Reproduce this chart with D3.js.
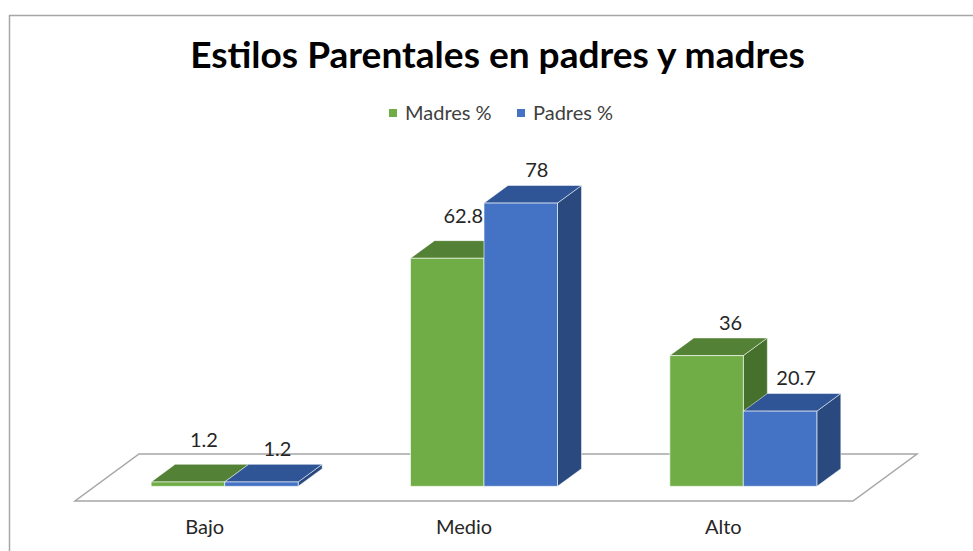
<!DOCTYPE html>
<html>
<head>
<meta charset="utf-8">
<script src="https://cdn.jsdelivr.net/npm/d3@7"></script>
<style>
  body { margin: 0; background: #fff; }
  svg { display: block; font-family: Lato, "Open Sans", sans-serif; }
</style>
</head>
<body>
<svg id="drawing_region"></svg>
<script>
const categories = ["Bajo", "Medio", "Alto"];
const seriesNames = ["Madres %", "Padres %"];
const madres = [1.2, 62.8, 36];
const padres = [1.2, 78, 20.7];
const titleText = "Estilos Parentales en padres y madres";

const W = 973, H = 551;
const svg = d3.select("#drawing_region").attr("width", W).attr("height", H);

// chart frame (only left and top visible in the shot)
svg.append("path")
  .attr("d", "M9.5,551 L9.5,15.5 L973,15.5")
  .attr("fill", "none").attr("stroke", "#a6a6a6").attr("stroke-width", 1.5);

// title, fitted to width
const title = svg.append("text")
  .attr("x", 497.5).attr("y", 68)
  .attr("text-anchor", "middle")
  .attr("font-weight", "bold").attr("font-size", 30)
  .attr("fill", "#000")
  .text(titleText);
const tw = title.node().getComputedTextLength();
title.attr("font-size", 30 * 615 / tw);

// legend
const colors = [
  { front: "#70ad47", top: "#538135", side: "#46712c" },
  { front: "#4472c4", top: "#2f5597", side: "#29497f" }
];
const legend = svg.append("g");
const legX = [389, 517];
seriesNames.forEach((s, i) => {
  legend.append("rect").attr("x", legX[i]).attr("y", 109).attr("width", 8).attr("height", 8)
    .attr("fill", colors[i].front);
  legend.append("text").attr("x", legX[i] + 16).attr("y", 120)
    .attr("font-size", 20).attr("fill", "#404040").text(s);
});

// 3D floor geometry
const floorFront = 501, floorLeft = 75, floorRight = 853;
const depth = { dx: 64, dy: -47 };
const barDepth0 = 20 / 64, barDepth1 = 44 / 64;

const x = d3.scaleBand().domain(categories).range([floorLeft, floorRight]).paddingInner(0).paddingOuter(0);
const inner = d3.scaleBand().domain(seriesNames).range([0, 147]);
const y = d3.scaleLinear().domain([0, 80]).range([0, 290.5]);

svg.append("path")
  .attr("d", `M${floorLeft},${floorFront} L${floorRight},${floorFront} L${floorRight + depth.dx},${floorFront + depth.dy} L${floorLeft + depth.dx},${floorFront + depth.dy} Z`)
  .attr("fill", "#fff").attr("stroke", "#a6a6a6").attr("stroke-width", 1.5);

const bdx = depth.dx * (barDepth1 - barDepth0), bdy = depth.dy * (barDepth1 - barDepth0);
const offX = depth.dx * barDepth0, offY = depth.dy * barDepth0;
const baseY = floorFront + offY;

const bars = [];
categories.forEach((c, ci) => {
  [madres, padres].forEach((vals, si) => {
    const x0 = x(c) + x.bandwidth() / 2 - 147 / 2 + inner(seriesNames[si]) + offX;
    const w = inner.bandwidth();
    const h = y(vals[ci]);
    bars.push({ c, ci, si, v: vals[ci], x0, x1: x0 + w, top: baseY - h });
  });
});

const g = svg.append("g");
bars.forEach(b => {
  const col = colors[b.si];
  const pts = a => a.map(p => p.join(",")).join(" ");
  // side face
  g.append("polygon")
    .attr("points", pts([[b.x1, baseY], [b.x1 + bdx, baseY + bdy], [b.x1 + bdx, b.top + bdy], [b.x1, b.top]]))
    .attr("fill", col.side).attr("stroke", "rgba(255,255,255,0.5)").attr("stroke-width", 1);
  // top face
  g.append("polygon")
    .attr("points", pts([[b.x0, b.top], [b.x1, b.top], [b.x1 + bdx, b.top + bdy], [b.x0 + bdx, b.top + bdy]]))
    .attr("fill", col.top).attr("stroke", "rgba(255,255,255,0.5)").attr("stroke-width", 1);
  // front face
  g.append("rect")
    .attr("x", b.x0).attr("y", b.top).attr("width", b.x1 - b.x0).attr("height", baseY - b.top)
    .attr("fill", col.front).attr("stroke", "rgba(255,255,255,0.6)").attr("stroke-width", 1);
});

// data labels
bars.forEach(b => {
  const other = b.si === 0 ? padres[b.ci] : null;
  const bump = (other !== null && other >= b.v) ? 9 : 0;
  const dx = b.si === 0 ? 24 : 16;
  svg.append("text")
    .attr("x", (b.x0 + b.x1) / 2 + dx - (bump ? 8 : 0))
    .attr("y", b.top - 26 - bump)
    .attr("text-anchor", "middle")
    .attr("font-size", 20).attr("fill", "#262626")
    .text(b.v);
});

// category labels
categories.forEach(c => {
  svg.append("text")
    .attr("x", x(c) + x.bandwidth() / 2).attr("y", 534)
    .attr("text-anchor", "middle")
    .attr("font-size", 20).attr("fill", "#262626")
    .text(c);
});
</script>
</body>
</html>
